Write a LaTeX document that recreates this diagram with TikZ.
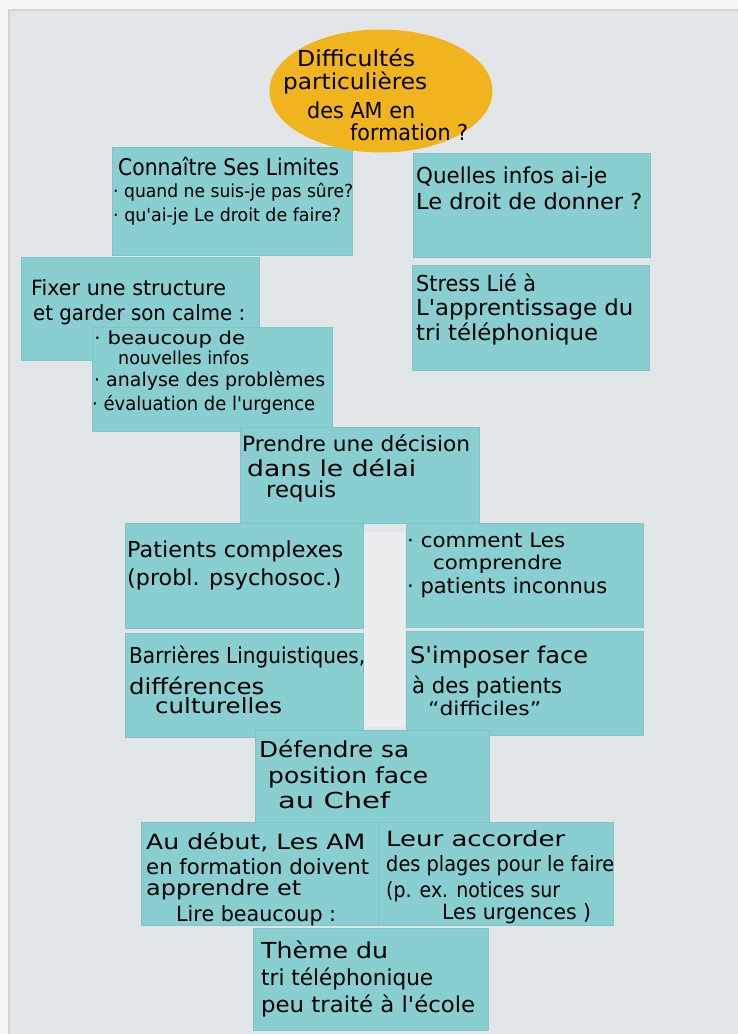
\documentclass[tikz,border=0pt]{standalone}
\usepackage{fontspec}
\usepackage{graphicx}
\usetikzlibrary{shapes.geometric}
\newfontfamily\hand{DejaVu Sans}
\definecolor{outerbg}{HTML}{F8F8F8}
\definecolor{panelbg}{HTML}{E3E6E9}
\definecolor{paneledge}{HTML}{D2D4D6}
\definecolor{stripbg}{HTML}{EBEDEF}
\definecolor{cardfill}{HTML}{89CED1}
\definecolor{cardedge}{HTML}{80C4C7}
\definecolor{bubble}{HTML}{F0B41E}
\newcommand\hw[5]{\node[txt,font=\hand\fontsize{#4}{#4}\selectfont] (#1) at (#2) {\resizebox{#3pt}{\height}{#5}};}
\begin{document}
\begin{tikzpicture}[x=1pt,y=-1pt,
  card/.style={draw=cardedge, line width=0.5pt, fill=cardfill, anchor=north west, inner sep=0pt},
  txt/.style={anchor=base west, inner sep=0pt, text=black}]
\useasboundingbox (0,0) rectangle (738,1034);
\fill[outerbg] (0,0) rectangle (738,1034);
\filldraw[fill=panelbg, draw=paneledge, line width=2pt] (9,10) rectangle (745,1045);
\fill[stripbg] (364,532) rectangle (405,727);
% cards
\node[card, minimum width=240pt, minimum height=108pt] (c1) at (112,147) {};
\node[card, minimum width=237pt, minimum height=104pt] (c2) at (413,153) {};
\node[card, minimum width=237pt, minimum height=105pt] (c3) at (412,265) {};
\node[card, minimum width=238pt, minimum height=103pt] (c4) at (21,257) {};
\node[card, minimum width=240pt, minimum height=104pt] (c5) at (92,327) {};
\node[card, minimum width=239pt, minimum height=96pt] (c6) at (240,427) {};
\node[card, minimum width=238pt, minimum height=105pt] (c7) at (125,523) {};
\node[card, minimum width=237pt, minimum height=104pt] (c8) at (406,523) {};
\node[card, minimum width=238pt, minimum height=104pt] (c9) at (125,633) {};
\node[card, minimum width=237pt, minimum height=104pt] (c10) at (406,631) {};
\node[card, minimum width=234pt, minimum height=92pt] (c11) at (255,730) {};
\node[card, minimum width=237pt, minimum height=103pt] (c12) at (141,822) {};
\node[card, minimum width=235pt, minimum height=103pt] (c13) at (378,822) {};
\node[card, minimum width=235pt, minimum height=102pt] (c14) at (253,928) {};
% title bubble
\node[ellipse, fill=bubble, inner sep=0pt, minimum width=223pt, minimum height=123pt] (e) at (381,91) {};
\hw{e1}{297,66}{118}{22}{Difficultés}
\hw{e2}{283,89}{144}{22}{particulières}
\hw{e3}{307,118}{108}{22}{des AM en}
\hw{e4}{350,140}{118}{22}{formation ?}
% c1
\hw{t1a}{118,175}{221}{23}{Connaître Ses Limites}
\hw{t1b}{113,197}{240}{18}{· quand ne suis-je pas sûre?}
\hw{t1c}{113,221}{228}{18}{· qu'ai-je Le droit de faire?}
% c2
\hw{t2a}{416,183}{191}{22}{Quelles infos ai-je}
\hw{t2b}{416,209}{226}{22}{Le droit de donner ?}
% c4
\hw{t4a}{31,295}{195}{21}{Fixer une structure}
\hw{t4b}{33,320}{212}{21}{et garder son calme :}
% c5
\hw{t5a}{94,344}{151}{18}{· beaucoup de}
\hw{t5b}{118,364}{131}{18}{nouvelles infos}
\hw{t5c}{94,386}{231}{19}{· analyse des problèmes}
\hw{t5d}{92,410}{223}{19}{· évaluation de l'urgence}
% c3
\hw{t3a}{416,291}{120}{22}{Stress Lié à}
\hw{t3b}{416,315}{217}{22}{L'apprentissage du}
\hw{t3c}{416,340}{182}{22}{tri téléphonique}
% c6
\hw{t6a}{242,451}{228}{21}{Prendre une décision}
\hw{t6b}{247,476}{169}{22}{dans le délai}
\hw{t6c}{266,497}{70}{22}{requis}
% c7
\hw{t7a}{127,557}{216}{22}{Patients complexes}
\hw{t7b}{127,585}{214}{22}{(probl. psychosoc.)}
% c8
\hw{t8a}{407,547}{158}{20}{· comment Les}
\hw{t8b}{433,569}{129}{19}{comprendre}
\hw{t8c}{407,593}{200}{21}{· patients inconnus}
% c9
\hw{t9a}{129,663}{236}{22}{Barrières Linguistiques,}
\hw{t9b}{129,694}{135}{22}{différences}
\hw{t9c}{155,713}{127}{21}{culturelles}
% c10
\hw{t10a}{410,663}{178}{23}{S'imposer face}
\hw{t10b}{412,693}{150}{22}{à des patients}
\hw{t10c}{428,715}{113}{19}{“difficiles”}
% c11
\hw{t11a}{259,757}{150}{22}{Défendre sa}
\hw{t11b}{268,783}{160}{22}{position face}
\hw{t11c}{278,808}{112}{22}{au Chef}
% c12
\hw{t12a}{146,849}{219}{21}{Au début, Les AM}
\hw{t12b}{146,874}{223}{21}{en formation doivent}
\hw{t12c}{146,895}{155}{21}{apprendre et}
\hw{t12d}{176,921}{160}{21}{Lire beaucoup :}
% c13
\hw{t13a}{386,846}{179}{21}{Leur accorder}
\hw{t13b}{386,871}{228}{21}{des plages pour le faire}
\hw{t13c}{386,897}{174}{21}{(p. ex. notices sur}
\hw{t13d}{442,919}{149}{21}{Les urgences )}
% c14
\hw{t14a}{261,958}{127}{22}{Thème du}
\hw{t14b}{261,985}{172}{22}{tri téléphonique}
\hw{t14c}{261,1012}{214}{22}{peu traité à l'école}
\end{tikzpicture}
\end{document}
